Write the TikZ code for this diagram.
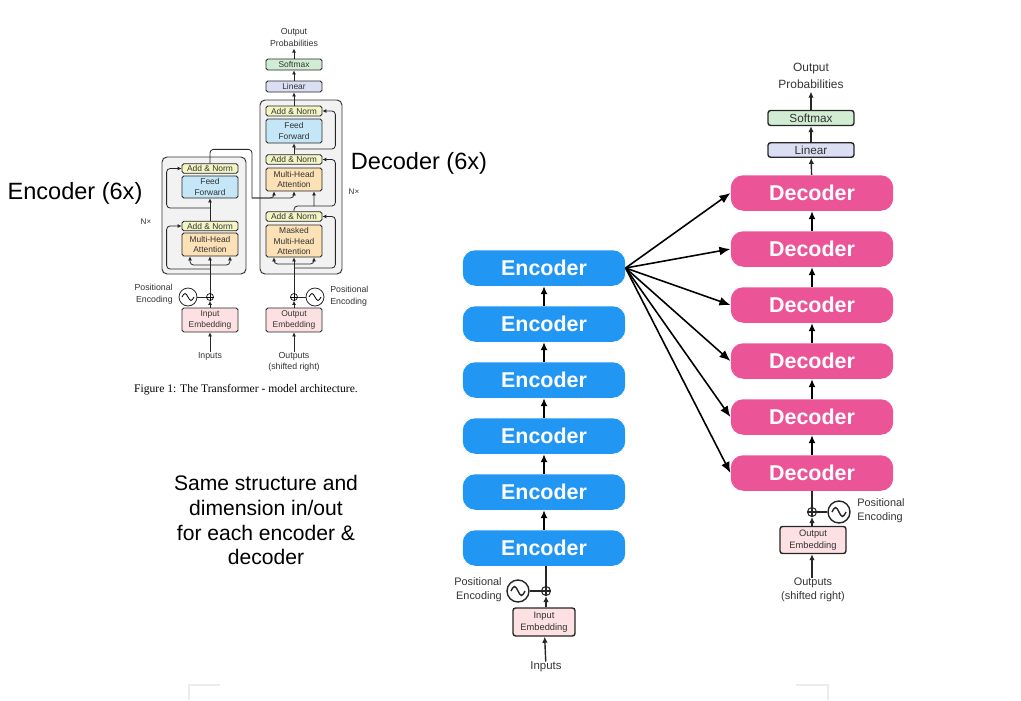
\documentclass[tikz,border=0pt]{standalone}
\usepackage{fontspec}
\setmainfont{Liberation Sans}
\newfontfamily\captionserif{Liberation Serif}
\usetikzlibrary{arrows.meta, positioning}

\definecolor{encblue}{RGB}{33,150,243}
\definecolor{decpink}{RGB}{236,84,152}
\definecolor{normyellow}{RGB}{243,246,196}
\definecolor{ffblue}{RGB}{196,230,246}
\definecolor{attorange}{RGB}{252,224,182}
\definecolor{embpink}{RGB}{252,224,226}
\definecolor{linlilac}{RGB}{220,222,244}
\definecolor{softgreen}{RGB}{208,236,210}
\definecolor{stackgray}{RGB}{242,242,242}
\definecolor{markgray}{RGB}{236,236,236}

\begin{document}
\begin{tikzpicture}[
    x=0.02cm, y=-0.02cm,
    block/.style={rectangle, rounded corners=0.25cm, text=white, font=\bfseries\fontsize{12.2}{14}\selectfont, minimum width=3.25cm, minimum height=0.71cm, inner sep=0pt},
    encoder/.style={block, fill=encblue},
    decoder/.style={block, fill=decpink},
    miniblock/.style={rectangle, draw=black!85, line width=0.45pt, rounded corners=1pt, inner sep=0pt, align=center, text=black!80, font=\fontsize{4.8}{5.8}\selectfont, minimum width=1.12cm},
    smallblock/.style={rectangle, draw=black!85, line width=0.8pt, rounded corners=1.5pt, inner sep=0pt, align=center, text=black!80, font=\fontsize{5.3}{6.6}\selectfont},
    minitext/.style={inner sep=0pt, align=center, text=black!80, font=\fontsize{5}{6.6}\selectfont},
    smalltext/.style={inner sep=0pt, align=center, text=black!80, font=\fontsize{6.2}{8}\selectfont},
    bigtext/.style={inner sep=0pt, align=center, font=\fontsize{12}{14.2}\selectfont},
    stackbox/.style={draw=black!80, line width=0.55pt, fill=stackgray, rounded corners=0.1cm},
    minisine/.style={circle, draw=black!85, line width=0.45pt, minimum size=0.36cm, inner sep=0pt},
    miniplus/.style={circle, draw=black!85, line width=0.45pt, minimum size=0.14cm, inner sep=0pt},
    smallsine/.style={circle, draw=black!85, line width=0.8pt, minimum size=0.44cm, inner sep=0pt},
    smallplus/.style={circle, draw=black!85, line width=0.6pt, minimum size=0.18cm, inner sep=0pt},
    miniline/.style={line width=0.45pt, draw=black!85, rounded corners=2},
    miniarrow/.style={miniline, -{Latex[length=0.8mm,width=0.8mm]}},
    smallline/.style={line width=0.8pt, draw=black!85},
    smallarrow/.style={smallline, -{Latex[length=1.2mm,width=1.1mm]}},
    stackarrow/.style={-{Latex[length=1.6mm,width=1.4mm]}, line width=1.1pt},
    fanarrow/.style={-{Latex[length=2.2mm,width=1.8mm]}, line width=0.9pt},
    markline/.style={draw=markgray, line width=0.6pt}
]
    \useasboundingbox (0,0) rectangle (1021,700);

    % Small transformer figure: encoder side
    \draw[stackbox] (162,157) rectangle (246,274);
    \node[miniblock, fill=normyellow, minimum height=0.19cm] (ean2) at (210,168.5) {Add \& Norm};
    \node[miniblock, fill=ffblue, minimum height=0.44cm] (eff) at (210,187) {Feed\\Forward};
    \node[miniblock, fill=normyellow, minimum height=0.19cm] (ean1) at (210,226) {Add \& Norm};
    \node[miniblock, fill=attorange, minimum height=0.46cm] (emha) at (210,244.5) {Multi-Head\\Attention};
    \node[miniblock, fill=embpink, minimum height=0.48cm] (eemb) at (210,320) {Input\\Embedding};
    \node[miniplus] (eplus) at (210,297) {};
    \node[minisine] (esin) at (188,297) {};
    \node[minitext, anchor=east, align=right] (epos) at (173,294) {Positional\\Encoding};
    \node[minitext] (einputs) at (210,356) {Inputs};
    \node[minitext, font=\fontsize{4.6}{6}\selectfont] (enx) at (146,222) {N×};

    % Small transformer figure: decoder side
    \draw[stackbox] (260,100) rectangle (342,274);
    \node[miniblock, fill=normyellow, minimum height=0.2cm] (dan3) at (294,111) {Add \& Norm};
    \node[miniblock, fill=ffblue, minimum height=0.48cm] (dff) at (294,131) {Feed\\Forward};
    \node[miniblock, fill=normyellow, minimum height=0.19cm] (dan2) at (294,159.5) {Add \& Norm};
    \node[miniblock, fill=attorange, minimum height=0.46cm] (dmha) at (294,179.5) {Multi-Head\\Attention};
    \node[miniblock, fill=normyellow, minimum height=0.19cm] (dan1) at (294,216.5) {Add \& Norm};
    \node[miniblock, fill=attorange, minimum height=0.64cm] (dmmha) at (294,241) {Masked\\Multi-Head\\Attention};
    \node[miniblock, fill=embpink, minimum height=0.48cm] (demb) at (294,320) {Output\\Embedding};
    \node[miniplus] (dplus) at (294,297) {};
    \node[minisine] (dsin) at (315,297) {};
    \node[minitext, anchor=west, align=left] (dpos) at (330,296) {Positional\\Encoding};
    \node[minitext] (doutputs) at (294,362) {Outputs\\(shifted right)};
    \node[minitext, font=\fontsize{4.6}{6}\selectfont] (dnx) at (354,192) {N×};
    \node[miniblock, fill=linlilac, minimum height=0.22cm] (dlin) at (294,86.5) {Linear};
    \node[miniblock, fill=softgreen, minimum height=0.22cm] (dsoft) at (294,64.5) {Softmax};
    \node[minitext, inner sep=1pt] (dprob) at (294,37.5) {Output\\Probabilities};
    \node[inner sep=0pt, font=\captionserif\fontsize{6.6}{7.5}\selectfont] (caption) at (246,390) {Figure 1: The Transformer - model architecture.};

    % Small figure symbols
    \draw[line width=0.45pt] (eplus.north) -- (eplus.south) (eplus.west) -- (eplus.east);
    \draw[line width=0.45pt] (dplus.north) -- (dplus.south) (dplus.west) -- (dplus.east);
    \draw[line width=0.45pt] (esin.center) ++(-6,0) sin ++(3,-3.5) cos ++(3,3.5) sin ++(3,3.5) cos ++(3,-3.5);
    \draw[line width=0.45pt] (dsin.center) ++(-6,0) sin ++(3,-3.5) cos ++(3,3.5) sin ++(3,3.5) cos ++(3,-3.5);

    % Small figure connectors: encoder
    \coordinate (esplit) at (210,265);
    \coordinate (eres1) at (210,269);
    \coordinate (eres2) at (210,208);
    \coordinate (ekv) at (252,198);
    \draw[miniarrow] (einputs) -- (eemb);
    \draw[miniarrow] (eemb) -- (eplus);
    \draw[miniline] (esin) -- (eplus);
    \draw[miniarrow] (eplus) -- (emha);
    \draw[miniarrow] (esplit) -| ([xshift=-0.4cm]emha.south);
    \draw[miniarrow] (esplit) -| ([xshift=0.4cm]emha.south);
    \draw[miniarrow] (eres1) -| ([xshift=-0.3cm]ean1.west) -- (ean1.west);
    \draw[miniarrow] (ean1) -- (eff);
    \draw[miniarrow] (eres2) -| ([xshift=-0.3cm]ean2.west) -- (ean2.west);
    \draw[miniline] (ean2.north) -- ++(0,-14) -| (ekv);
    \draw[miniarrow] (ekv) -| ([xshift=-0.4cm]dmha.south);
    \draw[miniarrow] (ekv) -| (dmha.south);

    % Small figure connectors: decoder
    \coordinate (dsplit) at (294,264);
    \coordinate (dres1) at (294,268);
    \coordinate (dres2) at (314,206);
    \coordinate (dres3) at (294,149);
    \draw[miniarrow] (doutputs) -- (demb);
    \draw[miniarrow] (demb) -- (dplus);
    \draw[miniline] (dsin) -- (dplus);
    \draw[miniarrow] (dplus) -- (dmmha);
    \draw[miniarrow] (dsplit) -| ([xshift=-0.4cm]dmmha.south);
    \draw[miniarrow] (dsplit) -| ([xshift=0.4cm]dmmha.south);
    \draw[miniarrow] (dres1) -| ([xshift=0.26cm]dan1.east) -- (dan1.east);
    \draw[miniline] (dan1.north) |- (dres2);
    \draw[miniarrow] (dres2) -- ([xshift=0.4cm]dmha.south);
    \draw[miniarrow] (dres2) -| ([xshift=0.26cm]dan2.east) -- (dan2.east);
    \draw[miniarrow] (dan2) -- (dff);
    \draw[miniarrow] (dres3) -| ([xshift=0.26cm]dan3.east) -- (dan3.east);
    \draw[miniarrow] (dan3) -- (dlin);
    \draw[miniarrow] (dlin) -- (dsoft);
    \draw[miniarrow] (dsoft) -- (dprob);

    % Headings and note
    \node[bigtext, font=\fontsize{13.4}{15}\selectfont] (enctitle) at (75,193) {Encoder (6x)};
    \node[bigtext, font=\fontsize{13.4}{15}\selectfont] (dectitle) at (419,163) {Decoder (6x)};
    \node[bigtext] (note) at (266,520) {Same structure and\\dimension in/out\\for each encoder \&\\decoder};

    % Encoder stack
    \node[encoder] (enc1) at (544,548) {Encoder};
    \node[encoder] (enc2) at (544,492) {Encoder};
    \node[encoder] (enc3) at (544,436) {Encoder};
    \node[encoder] (enc4) at (544,380) {Encoder};
    \node[encoder] (enc5) at (544,324) {Encoder};
    \node[encoder] (enc6) at (544,268) {Encoder};
    \draw[stackarrow] (enc1) -- (enc2);
    \draw[stackarrow] (enc2) -- (enc3);
    \draw[stackarrow] (enc3) -- (enc4);
    \draw[stackarrow] (enc4) -- (enc5);
    \draw[stackarrow] (enc5) -- (enc6);

    % Decoder stack
    \node[decoder] (dec1) at (812,473) {Decoder};
    \node[decoder] (dec2) at (812,417) {Decoder};
    \node[decoder] (dec3) at (812,361) {Decoder};
    \node[decoder] (dec4) at (812,305) {Decoder};
    \node[decoder] (dec5) at (812,249) {Decoder};
    \node[decoder] (dec6) at (812,193) {Decoder};
    \draw[stackarrow] (dec1) -- (dec2);
    \draw[stackarrow] (dec2) -- (dec3);
    \draw[stackarrow] (dec3) -- (dec4);
    \draw[stackarrow] (dec4) -- (dec5);
    \draw[stackarrow] (dec5) -- (dec6);

    % Top encoder feeds every decoder
    \draw[fanarrow] (enc6.east) -- (dec6.west);
    \draw[fanarrow] (enc6.east) -- (dec5.west);
    \draw[fanarrow] (enc6.east) -- (dec4.west);
    \draw[fanarrow] (enc6.east) -- (dec3.west);
    \draw[fanarrow] (enc6.east) -- (dec2.west);
    \draw[fanarrow] (enc6.east) -- (dec1.west);

    % Output head
    \node[smallblock, fill=linlilac, minimum width=1.72cm, minimum height=0.29cm, font=\fontsize{6.7}{8}\selectfont] (linear) at (811,150) {Linear};
    \node[smallblock, fill=softgreen, minimum width=1.72cm, minimum height=0.3cm, font=\fontsize{6.7}{8}\selectfont] (softmax) at (811,118) {Softmax};
    \node[smalltext, inner sep=1.5pt, font=\fontsize{6.8}{9.6}\selectfont] (probs) at (811,76) {Output\\Probabilities};
    \draw[smallarrow] (dec6) -- (linear);
    \draw[smallarrow] (linear) -- (softmax);
    \draw[smallarrow] (softmax) -- (probs);

    % Input side of the encoder stack
    \node[smallblock, fill=embpink, minimum width=1.24cm, minimum height=0.56cm] (inemb) at (544,622) {Input\\Embedding};
    \node[smallplus] (inplus) at (546,591) {};
    \node[smallsine] (insin) at (518,591) {};
    \node[smalltext, anchor=east, align=right] (inpos) at (502,590) {Positional\\Encoding};
    \node[smalltext, font=\fontsize{6.5}{8}\selectfont] (inputs) at (546,667) {Inputs};
    \draw[smallline] (inplus.north) -- (inplus.south) (inplus.west) -- (inplus.east);
    \draw[smallline] (insin.center) ++(-7,0) sin ++(3.5,-4.5) cos ++(3.5,4.5) sin ++(3.5,4.5) cos ++(3.5,-4.5);
    \draw[smallarrow] (inputs) -- (inemb);
    \draw[smallarrow] (inemb.north -| inplus) -- (inplus);
    \draw[smallline] (insin) -- (inplus);
    \draw[smallline] (inplus) -- (inplus |- enc1.south);

    % Input side of the decoder stack
    \node[smallblock, fill=embpink, minimum width=1.32cm, minimum height=0.54cm] (outemb) at (813,540) {Output\\Embedding};
    \node[smallplus] (outplus) at (812,512) {};
    \node[smallsine] (outsin) at (839,512) {};
    \node[smalltext, anchor=west, align=left] (outpos) at (857,511) {Positional\\Encoding};
    \node[smalltext] (outputs) at (813,590) {Outputs\\(shifted right)};
    \draw[smallline] (outplus.north) -- (outplus.south) (outplus.west) -- (outplus.east);
    \draw[smallline] (outsin.center) ++(-7,0) sin ++(3.5,-4.5) cos ++(3.5,4.5) sin ++(3.5,4.5) cos ++(3.5,-4.5);
    \draw[smallarrow] (outputs.north -| outplus) -- (outemb.south -| outplus);
    \draw[smallarrow] (outemb.north -| outplus) -- (outplus);
    \draw[smallline] (outsin) -- (outplus);
    \draw[smallline] (outplus) -- (outplus |- dec1.south);

    % Faint page corner marks
    \draw[markline] (189,700) -- (189,685) -- (220,685);
    \draw[markline] (796,685) -- (828,685) -- (828,700);
\end{tikzpicture}
\end{document}
